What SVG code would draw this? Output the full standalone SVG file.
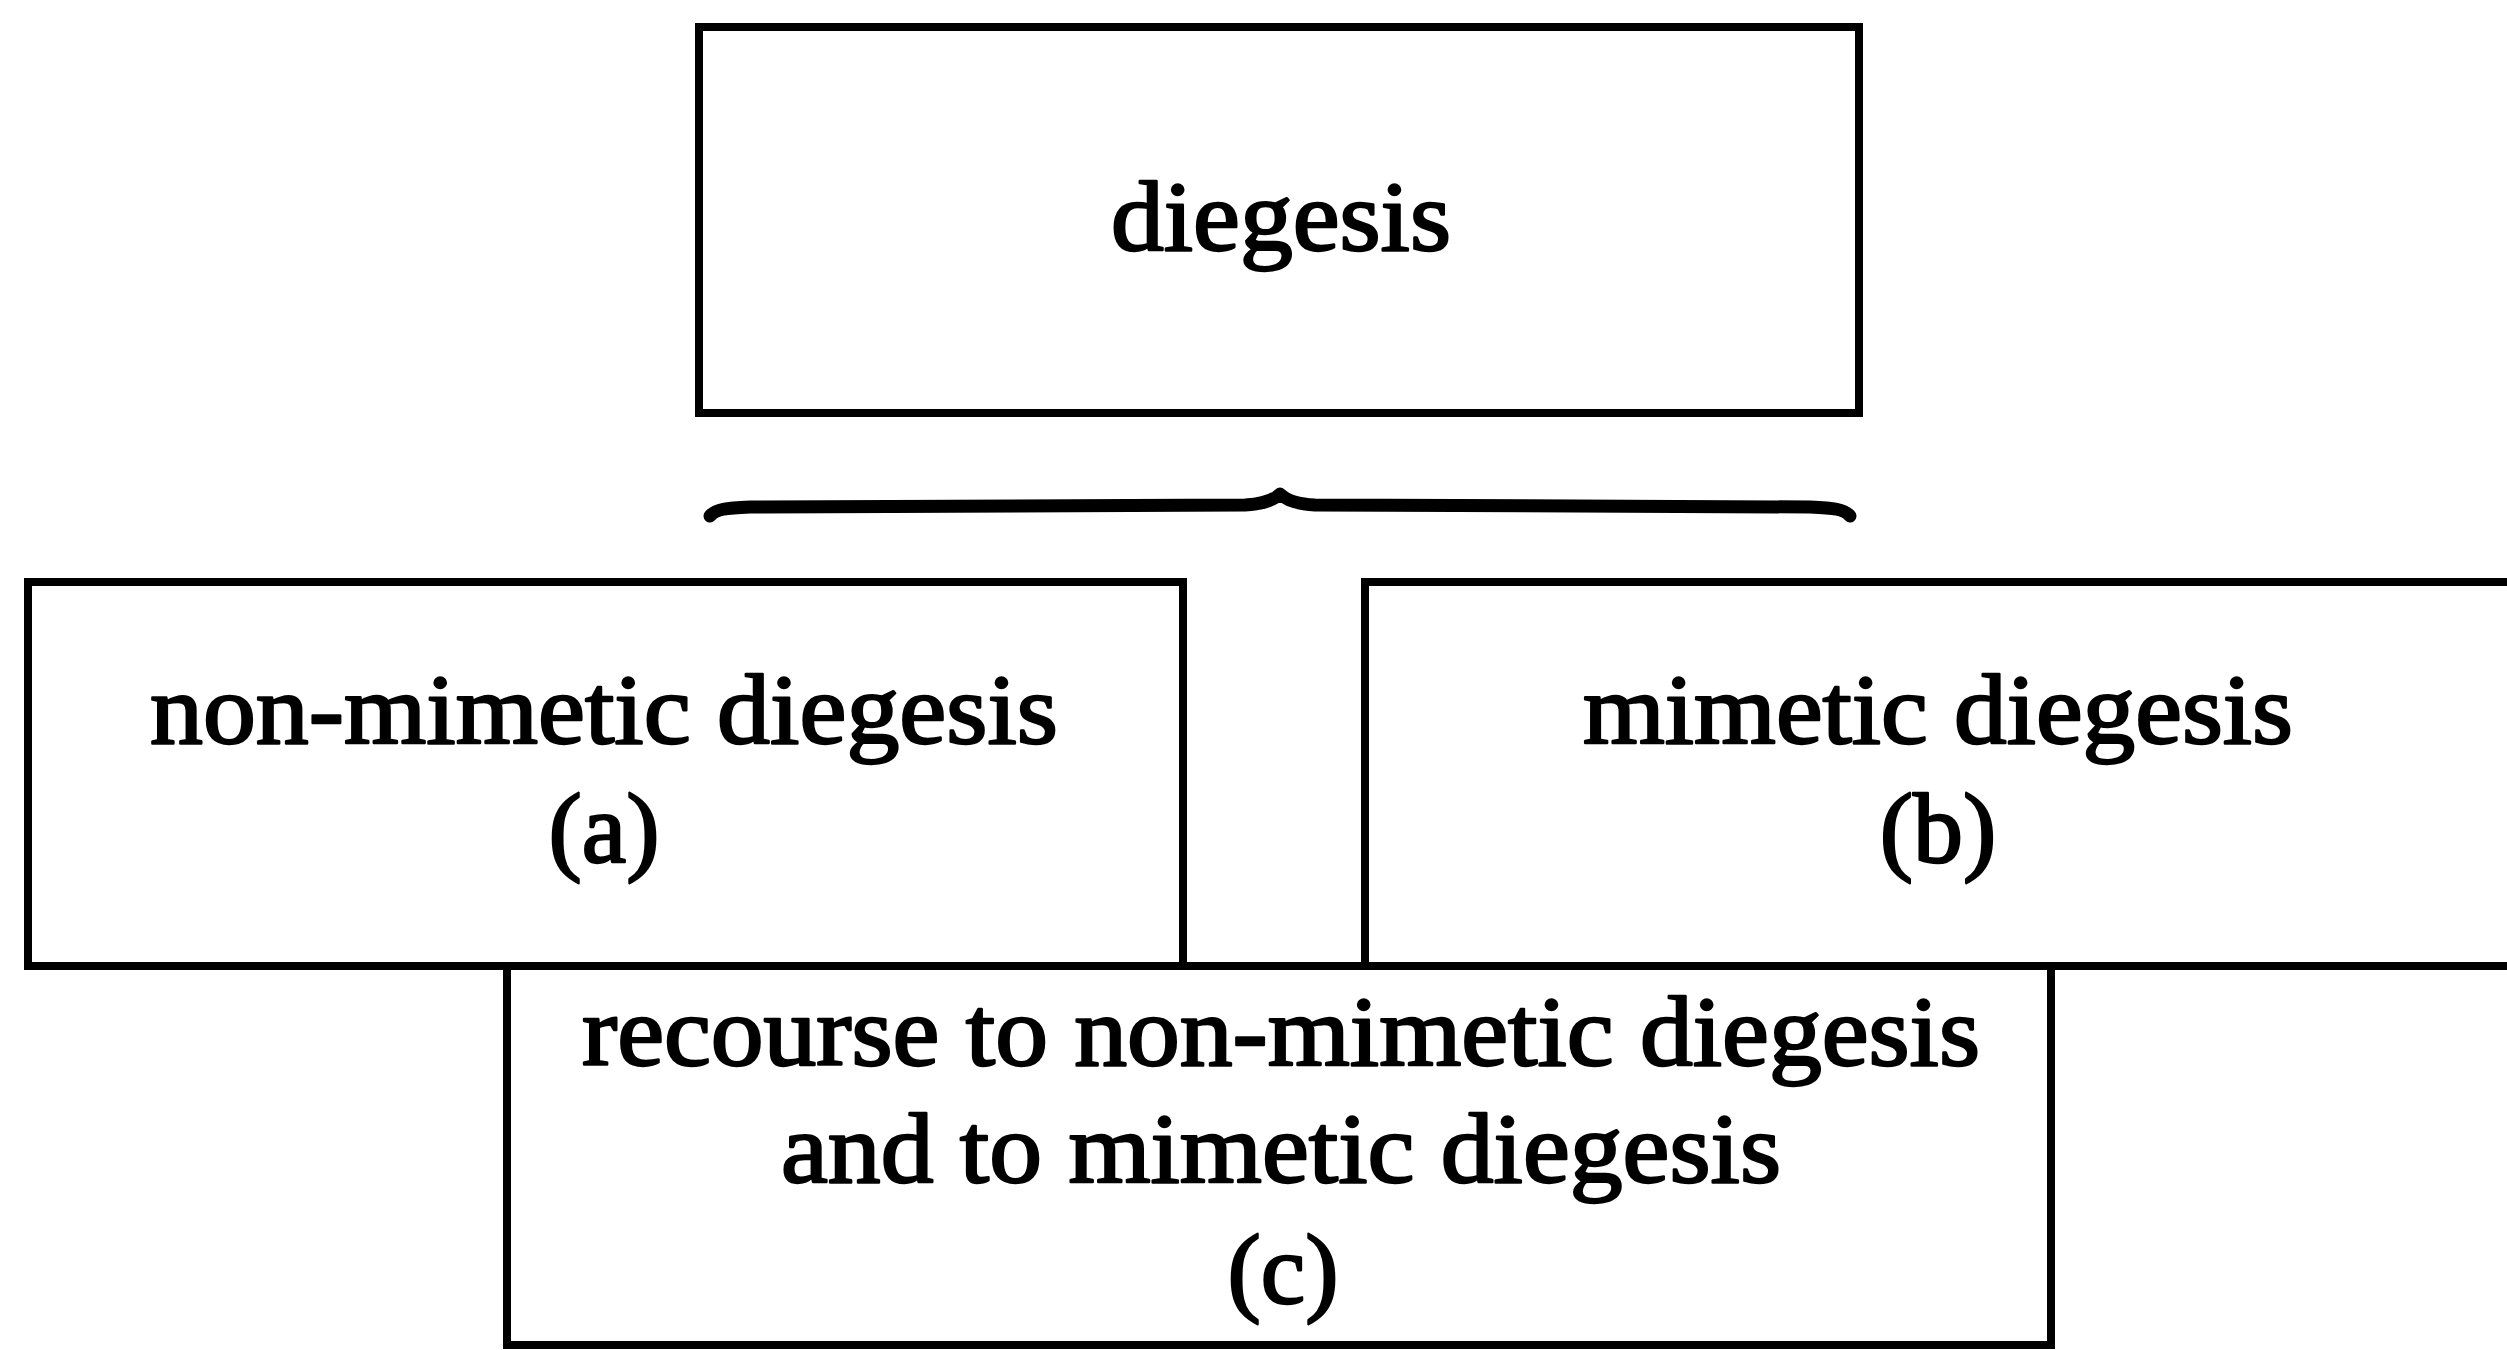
<svg xmlns="http://www.w3.org/2000/svg" width="2507" height="1350" viewBox="0 0 2507 1350">
  <style>
    .box { fill: #fff; stroke: #000; stroke-width: 8; }
    .lbl { font-family: "Liberation Serif", "DejaVu Serif", serif; font-size: 100px; fill: #000; stroke: #000; stroke-width: 2.4; stroke-linejoin: round; text-anchor: middle; }
    .brace { fill: none; stroke: #000; stroke-width: 13; stroke-linecap: round; stroke-linejoin: round; }
  </style>
  <rect width="2507" height="1350" fill="#fff"/>

  <g id="node-diegesis">
    <rect class="box" x="699" y="27" width="1160" height="386"/>
    <text class="lbl" x="1281" y="250" textLength="340" lengthAdjust="spacingAndGlyphs">diegesis</text>
  </g>

  <g id="node-non-mimetic">
    <rect class="box" x="28" y="582" width="1155" height="384"/>
    <text class="lbl" x="604" y="743" textLength="908" lengthAdjust="spacingAndGlyphs">non-mimetic diegesis</text>
    <text class="lbl" x="604" y="862">(a)</text>
  </g>

  <g id="node-mimetic">
    <rect class="box" x="1365" y="582" width="1160" height="384"/>
    <text class="lbl" x="1938" y="743" textLength="710" lengthAdjust="spacingAndGlyphs">mimetic diegesis</text>
    <text class="lbl" x="1938" y="862">(b)</text>
  </g>

  <g id="node-recourse">
    <rect class="box" x="507" y="966" width="1544" height="379"/>
    <text class="lbl" x="1281" y="1065" textLength="1398" lengthAdjust="spacingAndGlyphs">recourse to non-mimetic diegesis</text>
    <text class="lbl" x="1281" y="1182" textLength="1000" lengthAdjust="spacingAndGlyphs">and to mimetic diegesis</text>
    <text class="lbl" x="1283" y="1303">(c)</text>
  </g>

  <g id="connectors">
    <!-- brace grouping the two kinds of diegesis under the top box -->
    <path class="brace" d="M710,516 C716,509 726,508 750,507 L1245,505 C1262,504 1274,500 1280,494 C1286,500 1298,504 1315,505 L1810,507 C1834,508 1844,509 1850,516"/>
  </g>
</svg>
